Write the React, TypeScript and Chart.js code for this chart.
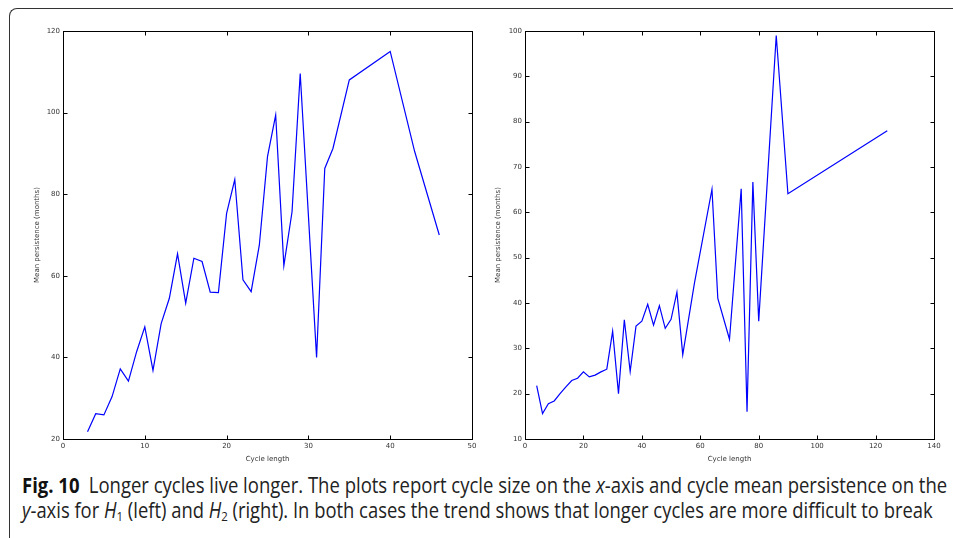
import React, { useEffect, useLayoutEffect, useRef, useState } from "react";
import { Chart, registerables } from "chart.js";
Chart.register(...registerables);

// ---- Data: H1 (left) ----
const h1Lengths = [3, 4, 5, 6, 7, 8, 9, 10, 11, 12, 13, 14, 15, 16, 17, 18, 19, 20, 21, 22, 23, 24, 25, 26, 27, 28, 29, 31, 32, 33, 35, 40, 43, 46];
const h1Persistence = [21.8, 26.2, 25.9, 30.4, 37.2, 34.2, 41.4, 47.5, 36.8, 48.3, 54.5, 65.4, 53.3, 64.3, 63.5, 56.0, 55.9, 75.3, 83.6, 59.0, 56.1, 67.5, 89.2, 99.4, 62.5, 75.7, 109.6, 40.0, 86.3, 91.2, 108.0, 115.0, 90.4, 70.0];

// ---- Data: H2 (right) ----
const h2Lengths = [4, 6, 8, 10, 12, 14, 16, 18, 20, 22, 24, 26, 28, 30, 32, 34, 36, 38, 40, 42, 44, 46, 48, 50, 52, 54, 56, 58, 64, 66, 70, 74, 76, 78, 80, 86, 90, 124];
const h2Persistence = [21.8, 15.6, 17.8, 18.4, 20.0, 21.5, 22.9, 23.4, 24.8, 23.7, 24.1, 24.8, 25.4, 33.8, 20.0, 36.3, 24.9, 34.9, 36.0, 39.7, 35.1, 39.4, 34.4, 36.4, 42.4, 28.6, 36.5, 44.4, 65.1, 41.0, 32.0, 65.2, 16.0, 66.7, 36.0, 99.0, 64.1, 78.0];

// ---- Axes ----
const h1XRange = [0, 50];
const h1XStep = 10;
const h1YRange = [20, 120];
const h1YStep = 20;
const h2XRange = [0, 140];
const h2XStep = 20;
const h2YRange = [10, 100];
const h2YStep = 10;
const xTitle = "Cycle length";
const yTitle = "Mean persistence (months)";

const TICK_FONT = { family: "'DejaVu Sans', sans-serif", size: 7 };

const mplFrame = {
  id: "mplFrame",
  afterDraw(chart: any, _args: any, opts: any) {
    const { ctx, chartArea: a, scales } = chart;
    ctx.save();
    ctx.strokeStyle = "#000";
    ctx.lineWidth = 1;
    const l = Math.round(a.left) + 0.5;
    const t = Math.round(a.top) + 0.5;
    const r = Math.round(a.right) + 0.5;
    const b = Math.round(a.bottom) + 0.5;
    ctx.strokeRect(l, t, r - l, b - t);
    const L = 4;
    ctx.beginPath();
    scales.x.ticks.forEach((tk: any) => {
      const px = Math.round(scales.x.getPixelForValue(tk.value)) + 0.5;
      ctx.moveTo(px, b);
      ctx.lineTo(px, b - L);
      ctx.moveTo(px, t);
      ctx.lineTo(px, t + L);
    });
    scales.y.ticks.forEach((tk: any) => {
      const py = Math.round(scales.y.getPixelForValue(tk.value)) + 0.5;
      ctx.moveTo(l, py);
      ctx.lineTo(l + L, py);
      ctx.moveTo(r, py);
      ctx.lineTo(r - L, py);
    });
    ctx.stroke();
    ctx.fillStyle = "#333";
    ctx.font = "7px 'DejaVu Sans', sans-serif";
    ctx.textAlign = "center";
    ctx.textBaseline = "middle";
    ctx.fillText(opts.xTitle, (a.left + a.right) / 2, opts.xTitleY);
    ctx.translate(opts.yTitleX, (a.top + a.bottom) / 2);
    ctx.rotate(-Math.PI / 2);
    ctx.fillText(opts.yTitle, 0, 0);
    ctx.restore();
  },
};

type PlotProps = {
  left: number;
  width: number;
  height: number;
  xs: number[];
  ys: number[];
  xRange: number[];
  xStep: number;
  yRange: number[];
  yStep: number;
  yAxisWidth: number;
  padRight: number;
  yTitleX: number;
};

function Plot(p: PlotProps) {
  const ref = useRef<HTMLCanvasElement | null>(null);
  useEffect(() => {
    if (!ref.current) return;
    const data = p.xs.map((x, i) => ({ x, y: p.ys[i] }));
    const chart = new Chart(ref.current, {
      type: "line",
      data: {
        datasets: [
          {
            data,
            borderColor: "#0000ff",
            borderWidth: 1.2,
            pointRadius: 0,
            tension: 0,
            fill: false,
          },
        ],
      },
      options: {
        animation: false,
        responsive: false,
        maintainAspectRatio: false,
        layout: { padding: { top: 31, right: p.padRight, left: 0, bottom: 0 } },
        plugins: {
          legend: { display: false },
          tooltip: { enabled: false },
          mplFrame: {
            xTitle,
            yTitle,
            xTitleY: 459,
            yTitleX: p.yTitleX,
          },
        } as any,
        scales: {
          x: {
            type: "linear",
            min: p.xRange[0],
            max: p.xRange[1],
            ticks: { stepSize: p.xStep, font: TICK_FONT, color: "#333", padding: 3, maxRotation: 0 },
            grid: { display: false, drawTicks: false },
            border: { display: false },
            afterFit: (s: any) => {
              s.height = p.height - 439;
            },
          },
          y: {
            type: "linear",
            min: p.yRange[0],
            max: p.yRange[1],
            ticks: { stepSize: p.yStep, font: TICK_FONT, color: "#333", padding: 3 },
            grid: { display: false, drawTicks: false },
            border: { display: false },
            afterFit: (s: any) => {
              s.width = p.yAxisWidth;
            },
          },
        },
      },
      plugins: [mplFrame],
    });
    return () => chart.destroy();
  }, []);
  return (
    <canvas
      ref={ref}
      width={p.width}
      height={p.height}
      style={{ position: "absolute", left: p.left, top: 0, width: p.width, height: p.height }}
    />
  );
}

function FitLine({ top, width, children }: { top: number; width: number; children: React.ReactNode }) {
  const ref = useRef<HTMLSpanElement | null>(null);
  const [scale, setScale] = useState(1);
  useLayoutEffect(() => {
    const measure = () => {
      if (ref.current) {
        const w = ref.current.scrollWidth;
        if (w > 0) setScale(width / w);
      }
    };
    measure();
    (document as any).fonts?.ready?.then(measure);
  }, []);
  return (
    <span
      ref={ref}
      style={{
        position: "absolute",
        left: 22,
        top,
        whiteSpace: "nowrap",
        display: "inline-block",
        transform: `scaleX(${scale})`,
        transformOrigin: "left top",
        fontFamily: "'Open Sans', sans-serif",
        fontSize: 21,
        lineHeight: "25px",
        color: "#222",
      }}
    >
      {children}
    </span>
  );
}

const subStyle: React.CSSProperties = { fontSize: "0.62em", verticalAlign: "-0.25em", lineHeight: 0 };

export default function App() {
  return (
    <div style={{ position: "absolute", left: 0, top: 0, width: 953, height: 538, overflow: "hidden", background: "#fff" }}>
      <div
        style={{
          position: "absolute",
          left: 9,
          top: 8,
          width: 1000,
          height: 600,
          borderLeft: "1px solid #333",
          borderTop: "1px solid #333",
          borderTopLeftRadius: 8,
        }}
      />
      <Plot
        left={0}
        width={480}
        height={470}
        xs={h1Lengths}
        ys={h1Persistence}
        xRange={h1XRange}
        xStep={h1XStep}
        yRange={h1YRange}
        yStep={h1YStep}
        yAxisWidth={63}
        padRight={8}
        yTitleX={37}
      />
      <Plot
        left={480}
        width={473}
        height={470}
        xs={h2Lengths}
        ys={h2Persistence}
        xRange={h2XRange}
        xStep={h2XStep}
        yRange={h2YRange}
        yStep={h2YStep}
        yAxisWidth={45}
        padRight={19}
        yTitleX={18}
      />
      <FitLine top={473} width={925}>
        <b style={{ color: "#111" }}>Fig. 10</b>
        {"\u2002Longer cycles live longer. The plots report cycle size on the "}
        <i>x</i>
        {"-axis and cycle mean persistence on the"}
      </FitLine>
      <FitLine top={498} width={911}>
        <i>y</i>
        {"-axis for "}
        <i>H</i>
        <span style={subStyle}>1</span>
        {" (left) and "}
        <i>H</i>
        <span style={subStyle}>2</span>
        {" (right). In both cases the trend shows that longer cycles are more difficult to break"}
      </FitLine>
    </div>
  );
}
